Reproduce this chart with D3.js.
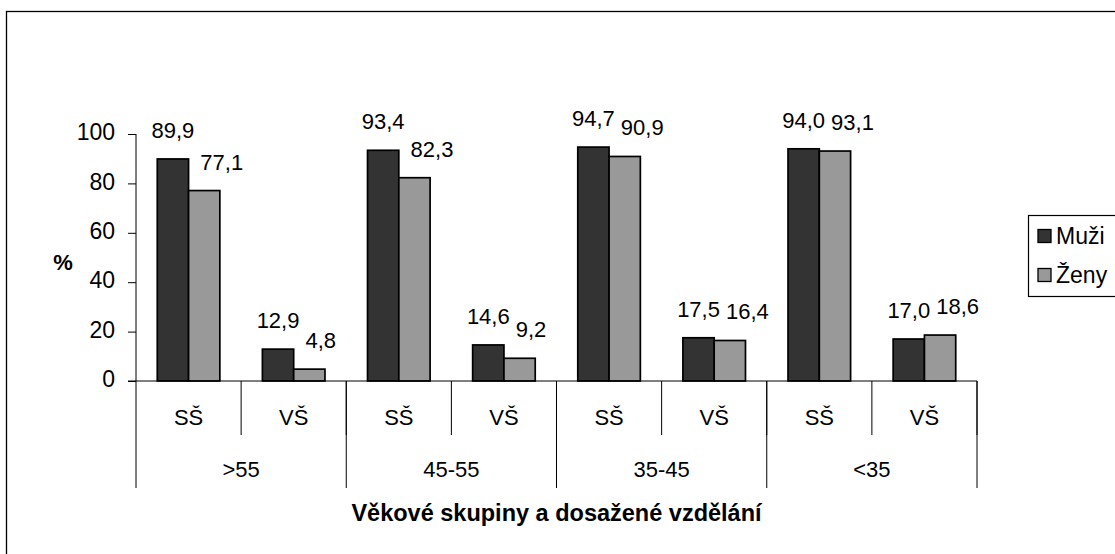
<!DOCTYPE html>
<html lang="cs">
<head>
<meta charset="utf-8">
<title>Věkové skupiny a dosažené vzdělání</title>
<script src="https://d3js.org/d3.v7.min.js"></script>
<style>
body { margin: 0; background: #fff; }
svg text { font-family: "Liberation Sans", Arial, sans-serif; fill: #000; }
</style>
</head>
<body>
<div id="container"></div>
<script>
// data
var groups = [">55", "45-55", "35-45", "<35"];
var levels = ["SŠ", "VŠ"];
var seriesNames = ["Muži", "Ženy"];
var muzi = [89.9, 12.9, 93.4, 14.6, 94.7, 17.5, 94.0, 17.0];
var zeny = [77.1, 4.8, 82.3, 9.2, 90.9, 16.4, 93.1, 18.6];
var yTicks = [0, 20, 40, 60, 80, 100];
var colors = ["#333333", "#999999"];

var w = 1115, h = 554;
var svg = d3.select("#container").append("svg")
    .attr("width", w).attr("height", h);

// outer frame (right and bottom run off the picture)
svg.append("rect")
    .attr("x", 6.5).attr("y", 11.5)
    .attr("width", w + 20).attr("height", h + 20)
    .attr("fill", "none").attr("stroke", "#000").attr("stroke-width", 1.3);

// one row per sub category
var rows = [];
groups.forEach(function(g, gi) {
    levels.forEach(function(l, li) {
        var i = gi * levels.length + li;
        rows.push({key: g + "|" + l, group: g, level: l, values: [muzi[i], zeny[i]]});
    });
});

var x0 = d3.scaleBand().domain(rows.map(function(d) { return d.key; }))
    .range([136, 977]).padding(0);
var x1 = d3.scaleBand().domain(seriesNames)
    .range([0, x0.bandwidth()]).paddingInner(0).paddingOuter(0.68);
var y = d3.scaleLinear().domain([0, 100]).range([381, 134]);

var fmt = function(v) { return d3.format(".1f")(v).replace(".", ","); };

// y axis
var yAxis = svg.append("g").attr("transform", "translate(136,0)")
    .call(d3.axisLeft(y).tickValues(yTicks).tickSize(8).tickPadding(13));
yAxis.select(".domain").attr("stroke", "#000").attr("d", "M0,134V381");
yAxis.selectAll(".tick line").attr("stroke", "#000");
yAxis.selectAll(".tick text")
    .attr("font-size", "23px").attr("font-family", "Liberation Sans, Arial, sans-serif")
    .attr("dy", "0.25em");

// bars
var cat = svg.append("g").selectAll("g").data(rows).enter().append("g")
    .attr("transform", function(d) { return "translate(" + x0(d.key) + ",0)"; });

cat.selectAll("rect")
    .data(function(d) { return d.values.map(function(v, i) { return {name: seriesNames[i], v: v, i: i}; }); })
    .enter().append("rect")
    .attr("x", function(d) { return x1(d.name); })
    .attr("y", function(d) { return y(d.v); })
    .attr("width", x1.bandwidth())
    .attr("height", function(d) { return y(0) - y(d.v); })
    .attr("fill", function(d) { return colors[d.i]; })
    .attr("stroke", "#000").attr("stroke-width", 1.7);

// value labels: Muži centred on the bar, Ženy pushed right when they would collide
cat.each(function(d) {
    var g = d3.select(this);
    var t0 = g.append("text")
        .attr("x", x1("Muži") + x1.bandwidth() / 2)
        .attr("y", y(d.values[0]) - 21)
        .attr("text-anchor", "middle").attr("font-size", "22px")
        .text(fmt(d.values[0]));
    var b0 = t0.node().getBBox();
    var t1 = g.append("text")
        .attr("y", y(d.values[1]) - 21)
        .attr("font-size", "22px")
        .text(fmt(d.values[1]));
    var wid = t1.node().getComputedTextLength();
    var cx = x1("Ženy") + x1.bandwidth() / 2;
    var left = Math.max(cx - wid / 2, b0.x + b0.width + 6);
    t1.attr("x", left);
});

// x axis line and divider lines
svg.append("line").attr("x1", 128).attr("x2", 977).attr("y1", 381).attr("y2", 381)
    .attr("stroke", "#000");
svg.selectAll(".sub").data(rows).enter().append("line")
    .attr("x1", function(d) { return x0(d.key) + x0.bandwidth(); })
    .attr("x2", function(d) { return x0(d.key) + x0.bandwidth(); })
    .attr("y1", 381).attr("y2", 435).attr("stroke", "#000");
var groupEdges = [136].concat(groups.map(function(g) { return x0(g + "|" + levels[levels.length - 1]) + x0.bandwidth(); }));
svg.selectAll(".grp").data(groupEdges).enter().append("line")
    .attr("x1", function(d) { return d; }).attr("x2", function(d) { return d; })
    .attr("y1", 381).attr("y2", 488).attr("stroke", "#000");

// category labels
svg.selectAll(".lvl").data(rows).enter().append("text")
    .attr("x", function(d) { return x0(d.key) + x0.bandwidth() / 2; })
    .attr("y", 425).attr("text-anchor", "middle").attr("font-size", "22px")
    .text(function(d) { return d.level; });
svg.selectAll(".grpl").data(groups).enter().append("text")
    .attr("x", function(d) { return (x0(d + "|" + levels[0]) + x0(d + "|" + levels[1]) + x0.bandwidth()) / 2; })
    .attr("y", 477).attr("text-anchor", "middle").attr("font-size", "22px")
    .text(function(d) { return d; });

// axis titles
svg.append("text").attr("x", 556.5).attr("y", 521).attr("text-anchor", "middle")
    .attr("font-size", "23.5px").attr("font-weight", "bold")
    .text("Věkové skupiny a dosažené vzdělání");
svg.append("text").attr("x", 63).attr("y", 270).attr("text-anchor", "middle")
    .attr("font-size", "22px").attr("font-weight", "bold").text("%");

// legend
var lg = svg.append("g");
lg.append("rect").attr("x", 1028.5).attr("y", 215.5).attr("width", 120).attr("height", 81)
    .attr("fill", "#fff").attr("stroke", "#000").attr("stroke-width", 1.2);
seriesNames.forEach(function(n, i) {
    var cy = 236 + i * 39;
    lg.append("rect").attr("x", 1038).attr("y", cy - 6.5).attr("width", 13).attr("height", 13)
        .attr("fill", colors[i]).attr("stroke", "#000").attr("stroke-width", 1.3);
    lg.append("text").attr("x", 1056).attr("y", cy + 8).attr("font-size", "23px").text(n);
});
</script>
</body>
</html>
